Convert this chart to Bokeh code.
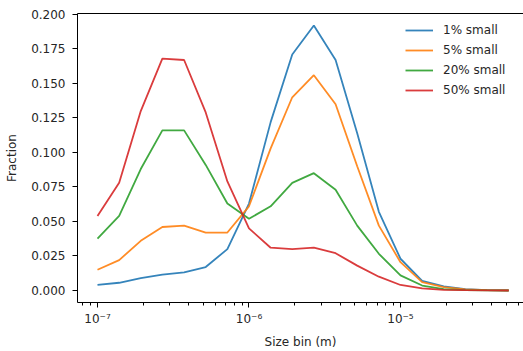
from bokeh.plotting import figure
from bokeh.models import Range1d, FixedTicker, CustomJSTickFormatter, PrintfTickFormatter, LogAxis, Legend, LegendItem
from bokeh.embed import file_html
from bokeh.resources import INLINE

size_bin = [1.00e-7, 1.39e-7, 1.93e-7, 2.68e-7, 3.73e-7, 5.18e-7, 7.20e-7,
            1.00e-6, 1.39e-6, 1.93e-6, 2.68e-6, 3.73e-6, 5.18e-6, 7.20e-6,
            1.00e-5, 1.39e-5, 1.93e-5, 2.68e-5, 3.73e-5, 5.18e-5]

small_1 = [0.004, 0.0056, 0.009, 0.0115, 0.0132, 0.017, 0.030, 0.063, 0.122, 0.171,
           0.192, 0.167, 0.114, 0.057, 0.023, 0.007, 0.003, 0.001, 0.0003, 0.0001]
small_5 = [0.015, 0.022, 0.036, 0.046, 0.047, 0.042, 0.042, 0.061, 0.103, 0.140,
           0.156, 0.135, 0.090, 0.047, 0.0205, 0.006, 0.0025, 0.0008, 0.0003, 0.0001]
small_20 = [0.0375, 0.054, 0.088, 0.116, 0.116, 0.091, 0.063, 0.052, 0.061, 0.078,
            0.085, 0.073, 0.047, 0.0266, 0.011, 0.0036, 0.001, 0.0003, 0.0001, 0.0]
small_50 = [0.054, 0.078, 0.130, 0.168, 0.167, 0.129, 0.079, 0.045, 0.031, 0.030,
            0.031, 0.027, 0.018, 0.010, 0.004, 0.0015, 0.0005, 0.0002, 0.0001, 0.0]

series_labels = ["1% small", "5% small", "20% small", "50% small"]
series_colors = ["#1f77b4", "#ff7f0e", "#2ca02c", "#d62728"]

x_major_ticks = [1e-7, 1e-6, 1e-5]
y_ticks = [0.0, 0.025, 0.05, 0.075, 0.1, 0.125, 0.15, 0.175, 0.2]

FONT = "DejaVu Sans"
TXT = "#262626"

p = figure(width=523, height=351, output_backend="svg", toolbar_location=None,
           x_axis_type="log",
           x_range=Range1d(10 ** -7.132, 10 ** -4.188),
           y_range=Range1d(-0.0087, 0.2007),
           min_border_left=77, min_border_right=0, min_border_top=13, min_border_bottom=49)
p.outline_line_color = None
p.xgrid.visible = False
p.ygrid.visible = False
p.background_fill_color = "white"
p.border_fill_color = "white"

minor = [m * 10.0 ** e for e in (-8, -7, -6, -5) for m in range(1, 10)]
p.xaxis.ticker = FixedTicker(ticks=x_major_ticks, minor_ticks=minor)
p.xaxis.formatter = CustomJSTickFormatter(code="""
const e = Math.round(Math.log10(tick));
const sup = {'-':'\u207b','0':'\u2070','1':'\u00b9','2':'\u00b2','3':'\u00b3','4':'\u2074','5':'\u2075','6':'\u2076','7':'\u2077','8':'\u2078','9':'\u2079'};
return '10' + String(e).split('').map(c => sup[c]).join('');
""")
p.yaxis.ticker = FixedTicker(ticks=y_ticks)
p.yaxis.formatter = PrintfTickFormatter(format="%.3f")

for ax in (p.xaxis[0], p.yaxis[0]):
    ax.axis_line_color = "black"
    ax.axis_line_width = 1
    ax.major_tick_line_color = "black"
    ax.minor_tick_line_color = "black"
    ax.major_tick_out = 5
    ax.major_tick_in = 0
    ax.minor_tick_out = 3
    ax.minor_tick_in = 0
    ax.major_label_text_font = FONT
    ax.major_label_text_font_size = "12px"
    ax.major_label_text_color = TXT
    ax.axis_label_text_font = FONT
    ax.axis_label_text_font_size = "12px"
    ax.axis_label_text_font_style = "normal"
    ax.axis_label_text_color = TXT
p.xaxis.major_label_standoff = 4
p.yaxis.major_label_standoff = 7
p.yaxis.minor_tick_line_color = None
p.xaxis.axis_label = "Size bin (m)"
p.yaxis.axis_label = "Fraction"
p.xaxis.axis_label_standoff = 6
p.yaxis.axis_label_standoff = 9

top = LogAxis(ticker=FixedTicker(ticks=[]), axis_line_color="black",
              major_tick_line_color=None, minor_tick_line_color=None,
              major_label_text_font_size="0px")
p.add_layout(top, "above")

items = []
for ys, lab, col in zip([small_1, small_5, small_20, small_50], series_labels, series_colors):
    r = p.line(size_bin, ys, line_color=col, line_width=1.8, line_alpha=0.9)
    items.append(LegendItem(label=lab, renderers=[r]))

leg = Legend(items=items, location=(328, 202), padding=0, margin=0, spacing=0,
             glyph_width=28, glyph_height=20, label_height=20, label_standoff=10,
             label_text_font=FONT, label_text_font_size="12px", label_text_color=TXT,
             background_fill_alpha=0, border_line_color=None)
p.add_layout(leg)

open("out.html", "w").write(file_html(p, INLINE))
